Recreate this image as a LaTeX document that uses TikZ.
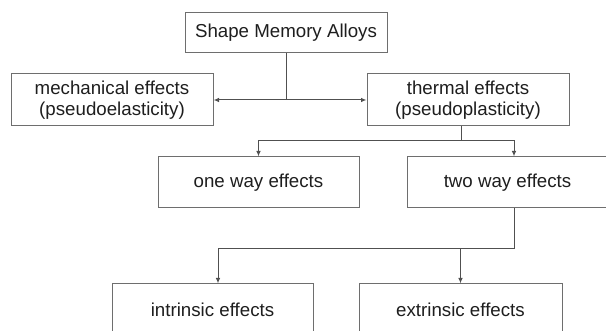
\documentclass[tikz,border=0pt]{standalone}
\usepackage{fontspec}
\setmainfont{Liberation Sans}
\usetikzlibrary{arrows.meta}

\definecolor{boxline}{HTML}{6E6E6E}
\definecolor{linkline}{HTML}{505050}
\definecolor{labeltext}{HTML}{1E1E1E}

\tikzset{
  box/.style={draw=boxline, line width=1pt, fill=white, rectangle,
    inner sep=0pt, align=center, text=labeltext,
    font=\fontsize{18.7}{21}\selectfont},
  link/.style={draw=linkline, line width=1pt},
  arr/.style={link, -{Latex[length=5.5pt,width=4.5pt]}},
}

\begin{document}
\begin{tikzpicture}[x=1pt,y=-1pt]
  \useasboundingbox (0,0) rectangle (606,331);
  \clip (0,0) rectangle (606,331);

  % boxes
  \node[box, minimum width=202pt, minimum height=40pt] (top) at (286,33) {Shape Memory Alloys};
  \node[box, minimum width=202pt, minimum height=52pt] (mech) at (112,100) {mechanical effects\\(pseudoelasticity)};
  \node[box, minimum width=202pt, minimum height=52pt] (therm) at (468,100) {thermal effects\\(pseudoplasticity)};
  \node[box, minimum width=201pt, minimum height=51pt] (one) at (258.5,182.5) {one way effects};
  \node[box, minimum width=201pt, minimum height=51pt] (two) at (507.5,182.5) {two way effects};
  \node[box, minimum width=201pt, minimum height=51pt] (intr) at (212.5,309.5) {intrinsic effects};
  \node[box, minimum width=203pt, minimum height=51pt] (extr) at (460.5,309.5) {extrinsic effects};

  % junction points of the connectors
  \coordinate (j1) at (top.south |- mech.east);
  \coordinate (j2) at (461,141);
  \coordinate (j3) at (514,249);

  % Shape Memory Alloys -> mechanical / thermal
  \draw[link] (top.south) -- (j1);
  \draw[arr] (j1) -- (mech.east);
  \draw[arr] (j1) -- (therm.west);

  % thermal -> one way / two way
  \draw[link] (therm.south -| j2) -- (j2);
  \draw[arr] (j2) -| (one.north);
  \draw[arr] (j2) -| ([xshift=6.5pt]two.north);

  % two way -> intrinsic / extrinsic
  \draw[link] (two.south -| j3) -- (j3);
  \draw[arr] (j3) -| ([xshift=5.5pt]intr.north);
  \draw[arr] (j3) -| (extr.north);
\end{tikzpicture}
\end{document}
